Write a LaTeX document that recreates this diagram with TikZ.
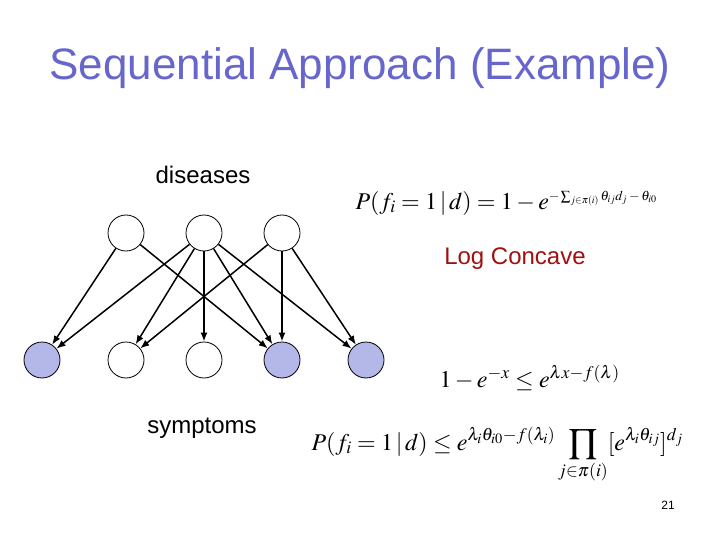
\documentclass[tikz,border=0pt]{standalone}
\usepackage{amsmath, amssymb}
\usepackage{mathptmx}
\usepackage[no-math]{fontspec}
\setmainfont{Liberation Sans}
\usepackage{tikz}
\usetikzlibrary{arrows.meta}
\definecolor{titleBlue}{RGB}{102, 102, 204}
\definecolor{nodeBlue}{RGB}{180, 184, 232}
\definecolor{logRed}{RGB}{160, 16, 16}
\tikzset{
  var/.style={draw, circle, minimum size=36pt, inner sep=0pt, line width=0.8pt, fill=white},
  obs/.style={var, fill=nodeBlue},
  link/.style={-{Latex[length=9pt, width=7pt]}, line width=1.5pt}
}

\begin{document}
\begin{tikzpicture}[x=1pt, y=-1pt]
      \useasboundingbox (0,0) rectangle (720,540);

      \node[titleBlue, font=\fontsize{44}{50}\selectfont] (title) at (360,68) {Sequential Approach (Example)};

      % diseases
      \node[var] (d1) at (126,233) {};
      \node[var] (d2) at (204,233) {};
      \node[var] (d3) at (282,233) {};

      % symptoms
      \node[obs] (s1) at (42,360) {};
      \node[var] (s2) at (126,360) {};
      \node[var] (s3) at (204,360) {};
      \node[obs] (s4) at (282,360) {};
      \node[obs] (s5) at (366,360) {};

      \foreach \a/\b in {d1/s1, d1/s4, d2/s1, d2/s2, d2/s3, d2/s4, d2/s5, d3/s2, d3/s4, d3/s5}
        \draw[link] (\a) -- (\b);

      \node[font=\fontsize{24}{28}\selectfont] (dis) at (203,175) {diseases};
      \node[font=\fontsize{24}{28}\selectfont] (sym) at (202,428) {symptoms};
      \node[logRed, font=\fontsize{24}{28}\selectfont] (logc) at (515,259) {Log Concave};

      \node[font=\fontsize{24}{28}\selectfont, anchor=west] (eq1) at (352,203)
        {$P(f_i=1\,|\,d)=1-e^{\mbox{\fontsize{13.5}{15}\selectfont$-\sum_{j\in\pi(i)}\theta_{ij}d_j-\theta_{i0}$}}$};
      \node[font=\fontsize{24}{28}\selectfont, anchor=west] (eq2) at (436,378)
        {$1-e^{-x}\le e^{\lambda x-f(\lambda)}$};
      \node[font=\fontsize{24}{28}\selectfont, anchor=west] (eq3) at (308,455)
        {$\displaystyle P(f_i=1\,|\,d)\le e^{\lambda_i\theta_{i0}-f(\lambda_i)}\prod_{j\in\pi(i)}[e^{\lambda_i\theta_{ij}}]^{d_j}$};

      \node[font=\fontsize{12}{14}\selectfont] (page) at (668,505) {21};
\end{tikzpicture}
\end{document}
